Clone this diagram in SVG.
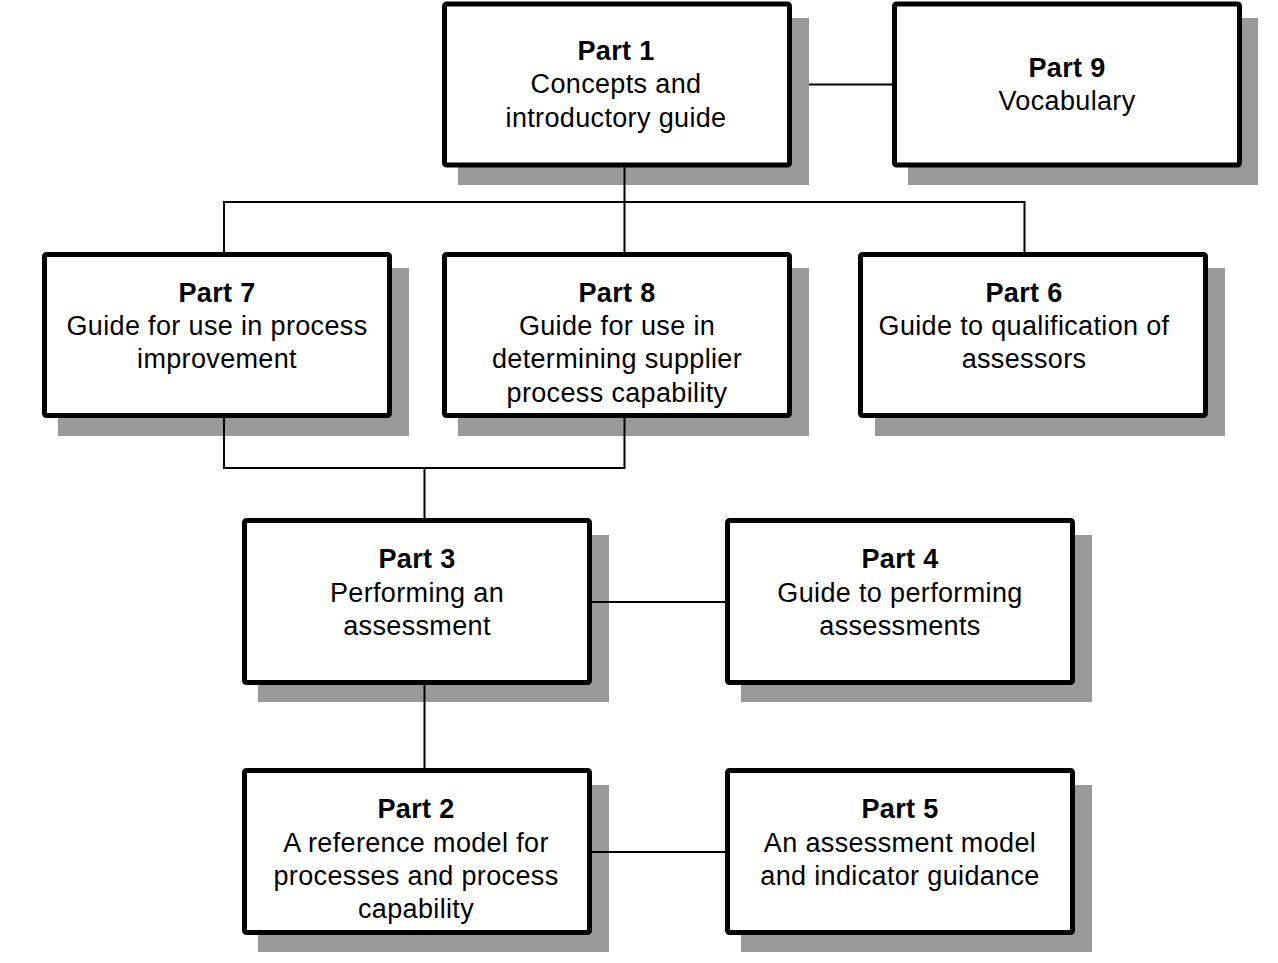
<svg xmlns="http://www.w3.org/2000/svg" width="1278" height="963" viewBox="0 0 1278 963">
<style>
.sh{fill:#999999;}
.bx{fill:#ffffff;stroke:#000000;stroke-width:5;}
.t{font-family:"Liberation Sans",Arial,sans-serif;font-size:27px;letter-spacing:0.35px;fill:#000000;text-anchor:middle;}
.b{font-weight:bold;}
.c{fill:none;stroke:#000000;stroke-width:2;}
</style>
<rect width="1278" height="963" fill="#ffffff"/>
<g id="shadows">
<rect class="sh" x="458" y="18" width="351" height="167"/>
<rect class="sh" x="908" y="18" width="350" height="167"/>
<rect class="sh" x="58" y="268" width="351" height="168"/>
<rect class="sh" x="458" y="268" width="351" height="168"/>
<rect class="sh" x="875" y="268" width="350" height="168"/>
<rect class="sh" x="258" y="535" width="351" height="167"/>
<rect class="sh" x="741" y="535" width="351" height="167"/>
<rect class="sh" x="258" y="785" width="351" height="167"/>
<rect class="sh" x="741" y="785" width="351" height="167"/>
</g>
<g id="connectors">
<path class="c" d="M809 84.5H892"/>
<path class="c" d="M624.5 167V202M224 202H1025M224 201V252M624.5 201V252M1024.5 201V252"/>
<path class="c" d="M224 418V468M624.5 418V468M223 468H625.5M424.5 468V518"/>
<path class="c" d="M592 602H725"/>
<path class="c" d="M424.5 685V768"/>
<path class="c" d="M592 852H725"/>
</g>
<g id="part1">
<rect class="bx" x="444.5" y="4" width="345" height="161" rx="2"/>
<text class="t b" x="616" y="60">Part 1</text>
<text class="t" x="616" y="93">Concepts and</text>
<text class="t" x="616" y="127">introductory guide</text>
</g>
<g id="part9">
<rect class="bx" x="894.5" y="4" width="345" height="161" rx="2"/>
<text class="t b" x="1067" y="77">Part 9</text>
<text class="t" x="1067" y="110">Vocabulary</text>
</g>
<g id="part7">
<rect class="bx" x="44.5" y="254.5" width="345" height="161" rx="2"/>
<text class="t b" x="217" y="302">Part 7</text>
<text class="t" x="217" y="335">Guide for use in process</text>
<text class="t" x="217" y="368">improvement</text>
</g>
<g id="part8">
<rect class="bx" x="444.5" y="254.5" width="345" height="161" rx="2"/>
<text class="t b" x="617" y="302">Part 8</text>
<text class="t" x="617" y="335">Guide for use in</text>
<text class="t" x="617" y="368">determining supplier</text>
<text class="t" x="617" y="402">process capability</text>
</g>
<g id="part6">
<rect class="bx" x="860.5" y="254.5" width="345" height="161" rx="2"/>
<text class="t b" x="1024" y="302">Part 6</text>
<text class="t" x="1024" y="335">Guide to qualification of</text>
<text class="t" x="1024" y="368">assessors</text>
</g>
<g id="part3">
<rect class="bx" x="244.5" y="520.5" width="345" height="162" rx="2"/>
<text class="t b" x="417" y="568">Part 3</text>
<text class="t" x="417" y="602">Performing an</text>
<text class="t" x="417" y="635">assessment</text>
</g>
<g id="part4">
<rect class="bx" x="727.5" y="520.5" width="345" height="162" rx="2"/>
<text class="t b" x="900" y="568">Part 4</text>
<text class="t" x="900" y="602">Guide to performing</text>
<text class="t" x="900" y="635">assessments</text>
</g>
<g id="part2">
<rect class="bx" x="244.5" y="770.5" width="345" height="162" rx="2"/>
<text class="t b" x="416" y="818">Part 2</text>
<text class="t" x="416" y="852">A reference model for</text>
<text class="t" x="416" y="885">processes and process</text>
<text class="t" x="416" y="918">capability</text>
</g>
<g id="part5">
<rect class="bx" x="727.5" y="770.5" width="345" height="162" rx="2"/>
<text class="t b" x="900" y="818">Part 5</text>
<text class="t" x="900" y="852">An assessment model</text>
<text class="t" x="900" y="885">and indicator guidance</text>
</g>
</svg>
